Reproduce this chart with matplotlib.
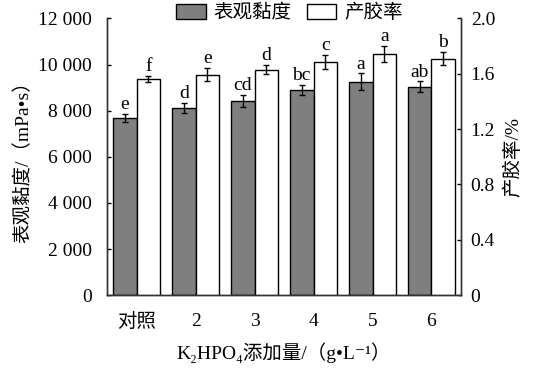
import matplotlib
matplotlib.use("Agg")
import matplotlib.pyplot as plt
from matplotlib.patches import Patch

plt.rcParams['font.family'] = ['Liberation Serif', 'DejaVu Serif', 'Noto Sans CJK SC']

categories = ['对照', '2', '3', '4', '5', '6']
viscosity = [7670, 8130, 8420, 8900, 9260, 9045]
viscosity_err = [170, 220, 250, 230, 350, 220]
viscosity_letters = ['e', 'd', 'cd', 'bc', 'a', 'ab']
yield_pct = [1.561, 1.594, 1.630, 1.684, 1.742, 1.710]
yield_err = [0.022, 0.045, 0.035, 0.05, 0.058, 0.05]
yield_letters = ['f', 'e', 'd', 'c', 'a', 'b']
left_ticks = [0, 2000, 4000, 6000, 8000, 10000, 12000]
left_ticklabels = ['0', '2 000', '4 000', '6 000', '8 000', '10 000', '12 000']
right_ticks = [0, 0.4, 0.8, 1.2, 1.6, 2.0]
right_ticklabels = ['0', '0.4', '0.8', '1.2', '1.6', '2.0']

fs = 14
fig = plt.figure(figsize=(5.36, 3.75), dpi=100)
ax = fig.add_axes([0.2, 0.213, 0.66, 0.738])
ax2 = ax.twinx()

x = list(range(len(categories)))
w = 0.4
xl = [i - w / 2 for i in x]
xr = [i + w / 2 for i in x]

ax.bar(xl, viscosity, width=w, color='#7f7f7f', edgecolor='black', linewidth=1.0, zorder=2)
ax.errorbar(xl, viscosity, yerr=viscosity_err, fmt='none', ecolor='black', elinewidth=1.0,
            capsize=2, capthick=1.0, zorder=3)
ax2.bar(xr, yield_pct, width=w, color='white', edgecolor='black', linewidth=1.0, zorder=2)
ax2.errorbar(xr, yield_pct, yerr=yield_err, fmt='none', ecolor='black', elinewidth=1.0,
             capsize=2, capthick=1.0, zorder=3)

for xi, v, e, t in zip(xl, viscosity, viscosity_err, viscosity_letters):
    ax.text(xi, v + e + 40, t, ha='center', va='bottom', fontsize=fs)
for xi, v, e, t in zip(xr, yield_pct, yield_err, yield_letters):
    ax2.text(xi, v + e + 0.007, t, ha='center', va='bottom', fontsize=fs)

ax.set_xlim(-0.5, len(categories) - 0.5)
ax.set_ylim(0, 12000)
ax2.set_ylim(0, 2.0)
ax.set_yticks(left_ticks)
ax.set_yticklabels(left_ticklabels, fontsize=fs)
ax2.set_yticks(right_ticks)
ax2.set_yticklabels(right_ticklabels, fontsize=fs)
ax.set_xticks(x)
ax.set_xticklabels(categories, fontsize=fs)
ax.tick_params(axis='x', length=0, pad=13)
ax.tick_params(axis='y', direction='in', length=3, width=1, pad=11)
ax2.tick_params(axis='y', direction='in', length=3, width=1, pad=7)

for a in (ax, ax2):
    a.spines['top'].set_visible(False)
    for s in ('left', 'right', 'bottom'):
        a.spines[s].set_color('#333333')
        a.spines[s].set_linewidth(1.0)

ax.set_ylabel('表观黏度/（mPa•s）', fontsize=fs, labelpad=4)
ax2.set_ylabel('产胶率/%', fontsize=fs, labelpad=6)
ax.set_xlabel('K₂HPO₄添加量/（g•L⁻¹）', fontsize=fs, labelpad=8)

handles = [Patch(facecolor='#7f7f7f', edgecolor='black', linewidth=1.0),
           Patch(facecolor='white', edgecolor='black', linewidth=1.0)]
fig.legend(handles, ['表观黏度', '产胶率'], loc='center', bbox_to_anchor=(0.54, 0.966),
           ncol=2, frameon=False, fontsize=fs, handlelength=1.5, handleheight=0.8,
           handletextpad=0.4, columnspacing=0.8, borderpad=0)

fig.savefig('out.png', dpi=100)
